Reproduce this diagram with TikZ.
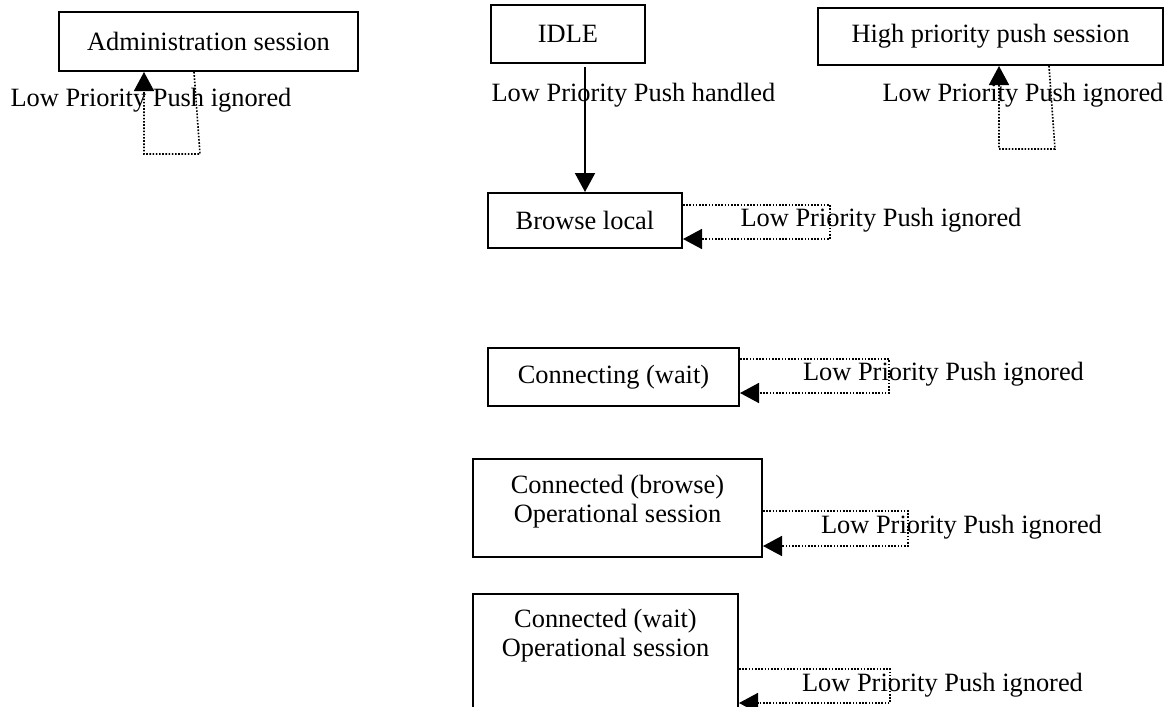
\documentclass[tikz,border=0pt]{standalone}
\usepackage{fontspec}
\setmainfont{Liberation Serif}
\usetikzlibrary{arrows.meta,positioning}

\tikzset{
  state/.style={draw, line width=1pt, inner sep=0pt},
  go/.style={line width=1pt, -{Triangle[width=10pt,length=9.5pt]}},
  selfloop/.style={dash pattern=on 0.8pt off 0.8pt, line width=0.8pt, -{Triangle[width=10pt,length=9.5pt]}},
  lbl/.style={inner sep=0pt}
}

\begin{document}
\begin{tikzpicture}[x=0.5pt,y=-0.5pt,font=\fontsize{13.2}{14.5}\selectfont]
	\useasboundingbox (0,0) rectangle (1169,707);
	\clip (0,0) rectangle (1169,707);
	
	% states
	\node[state, minimum width=149.5pt, minimum height=29.5pt] (admin) at (208.5,41.5) {Administration session};
	\node[state, minimum width=77pt, minimum height=29pt] (idle) at (568,34) {IDLE};
	\node[state, minimum width=172.5pt, minimum height=28.5pt] (high) at (990.5,36.5) {High priority push session};
	\node[state, minimum width=97pt, minimum height=27.5pt] (browse) at (585,220.5) {Browse local};
	\node[state, minimum width=125.5pt, minimum height=29pt] (connecting) at (613.5,377) {Connecting (wait)};
	\node[state, minimum width=144.5pt, minimum height=49pt] (cbrowse) at (617.5,508) {};
	\node[lbl, align=center] (cbrowsetext) at (617.5,502) {Connected (browse)\\Operational session};
	\node[state, minimum width=132.5pt, minimum height=90pt] (cwait) at (605.5,684) {};
	\node[lbl, align=center] (cwaittext) at (605.5,636) {Connected (wait)\\Operational session};
	
	% IDLE -> Browse local
	\draw[go, shorten <=1.5pt] (idle.south -| browse.north) -- (browse.north);
	\node[lbl] (handled) at (633.5,95) {Low Priority Push handled};
	
	% administration session
	\coordinate (adminR) at (200,154);
	\coordinate (adminL) at (144,154);
	\draw[selfloop] ([xshift=-7.25pt]admin.south) -- (adminR) -- (adminL) -- (adminL |- admin.south);
	\node[lbl] (adminign) at (151,100) {Low Priority Push ignored};
	
	% high priority push session
	\coordinate (highR) at (1055,149);
	\coordinate (highL) at (999,149);
	\draw[selfloop] ([xshift=29.25pt]high.south) -- (highR) -- (highL) -- (highL |- high.south);
	\node[lbl] (highign) at (1023,95) {Low Priority Push ignored};
	
	% browse local
	\coordinate (browseT) at (830,205);
	\coordinate (browseB) at (830,239);
	\draw[selfloop] (browseT -| browse.east) -- (browseT) -- (browseB) -- (browseB -| browse.east);
	\node[lbl] (browseign) at (881,220) {Low Priority Push ignored};
	
	% connecting
	\coordinate (connT) at (889,359);
	\coordinate (connB) at (889,393);
	\draw[selfloop] (connT -| connecting.east) -- (connT) -- (connB) -- (connB -| connecting.east);
	\node[lbl] (connign) at (943.5,374) {Low Priority Push ignored};
	
	% connected (browse)
	\coordinate (cbrowseT) at (908,511);
	\coordinate (cbrowseB) at (908,546);
	\draw[selfloop] (cbrowseT -| cbrowse.east) -- (cbrowseT) -- (cbrowseB) -- (cbrowseB -| cbrowse.east);
	\node[lbl] (cbrowseign) at (961.5,527) {Low Priority Push ignored};
	
	% connected (wait)
	\coordinate (cwaitT) at (890,669);
	\coordinate (cwaitB) at (890,703);
	\draw[selfloop] (cwaitT -| cwait.east) -- (cwaitT) -- (cwaitB) -- (cwaitB -| cwait.east);
	\node[lbl] (cwaitign) at (942.5,685) {Low Priority Push ignored};
\end{tikzpicture}
\end{document}
